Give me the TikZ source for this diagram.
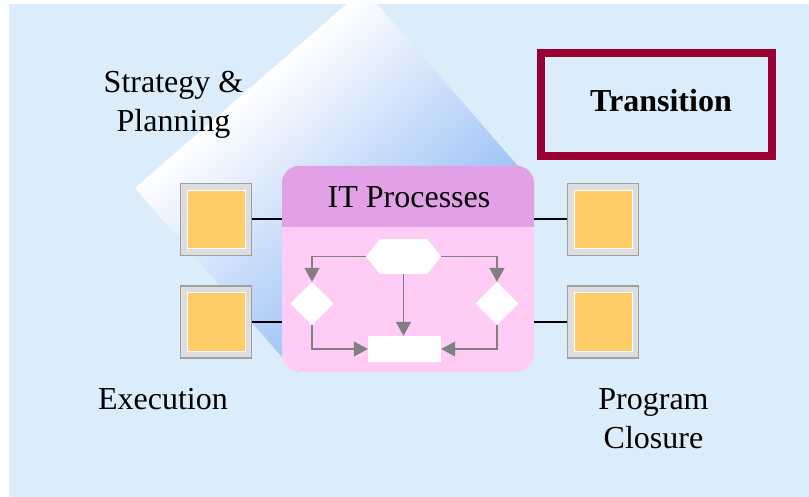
\documentclass[tikz,border=0pt]{standalone}
\usepackage{fontspec}
\setmainfont{Liberation Serif}
\usetikzlibrary{arrows.meta,shapes.geometric,shapes.symbols}
\definecolor{bgblue}{RGB}{219,237,251}
\definecolor{gradblue}{RGB}{158,194,246}
\definecolor{hdrpink}{RGB}{226,160,230}
\definecolor{bodypink}{RGB}{254,204,244}
\definecolor{sqgray}{RGB}{221,221,221}
\definecolor{sqedge}{RGB}{160,160,160}
\definecolor{sqorange}{RGB}{255,204,102}
\definecolor{transred}{RGB}{153,0,51}
\definecolor{flowgray}{RGB}{128,128,128}
\begin{document}
\begin{tikzpicture}[x=1pt,y=-1pt,
  bigtext/.style={font=\fontsize{32}{39}\selectfont, inner sep=0, align=center},
  sqout/.style={draw=sqedge, fill=sqgray, line width=1.5, minimum width=71, minimum height=72, inner sep=0},
  sqin/.style={draw=white, fill=sqorange, line width=1, minimum width=58, minimum height=58, inner sep=0},
  conn/.style={line width=2, black},
  flowshape/.style={fill=white, draw=none, inner sep=0},
  arr/.style={draw=flowgray, line width=1.3, -{Triangle[length=14,width=15]}}
]
\useasboundingbox (0,0) rectangle (809,497);
\fill[bgblue] (9,4) rectangle (809,497);
% gradient square
\begin{scope}[transform canvas={shift={(135,188)}, rotate=41}]
  \shade[top color=white, bottom color=gradblue] (0,0) rectangle (303.4,236.7);
\end{scope}
% texts
\node[bigtext, anchor=base] (strat) at (173.5,132) {Strategy \&\\Planning};
\node[bigtext, anchor=base] (exec) at (163,409) {Execution};
\node[bigtext, anchor=base] (prog) at (653.5,448) {Program\\Closure};
% transition box
\node[draw=transred, line width=8, minimum width=231, minimum height=103, inner sep=0] (trans) at (656.5,104.5) {};
\node[bigtext, font=\fontsize{32}{39}\selectfont\bfseries, anchor=base] (transtext) at (661,112) {Transition};
% IT box
\node[fill=bodypink, rounded corners=18, minimum width=252, minimum height=206, inner sep=0] (itbox) at (408,269) {};
\begin{scope}
  \clip (282,160) rectangle (534,227);
  \fill[hdrpink, rounded corners=18] (itbox.north west) rectangle (itbox.south east);
\end{scope}
\node[bigtext, anchor=base] (ittitle) at (409,208) {IT Processes};
% squares
\node[sqout] (s1) at (216,219.5) {};
\node[sqin] (s1i) at (s1) {};
\node[sqout] (s2) at (216,322) {};
\node[sqin] (s2i) at (s2) {};
\node[sqout] (s3) at (603,219.5) {};
\node[sqin] (s3i) at (s3) {};
\node[sqout] (s4) at (603,322) {};
\node[sqin] (s4i) at (s4) {};
\draw[conn] (s1.east) -- (itbox.west |- s1.east);
\draw[conn] (s2.east) -- (itbox.west |- s2.east);
\draw[conn] (s3.west) -- (itbox.east |- s3.west);
\draw[conn] (s4.west) -- (itbox.east |- s4.west);
% flowchart
\node[flowshape, signal, signal to=west and east, signal pointer angle=103,
      minimum width=75, minimum height=35] (hex) at (403.5,256.5) {};
\node[flowshape, diamond, minimum width=43, minimum height=43] (dl) at (312,303.5) {};
\node[flowshape, diamond, minimum width=43, minimum height=43] (dr) at (497,303.5) {};
\node[flowshape, rectangle, minimum width=73, minimum height=26] (rc) at (404.5,349) {};
\draw[arr] (hex.west) -| (dl.north);
\draw[arr] (hex.east) -| (dr.north);
\draw[arr] (hex.south) -- (hex.south |- rc.north);
\draw[arr] (dl.south) |- (rc.west);
\draw[arr] (dr.south) |- (rc.east);
\end{tikzpicture}
\end{document}
